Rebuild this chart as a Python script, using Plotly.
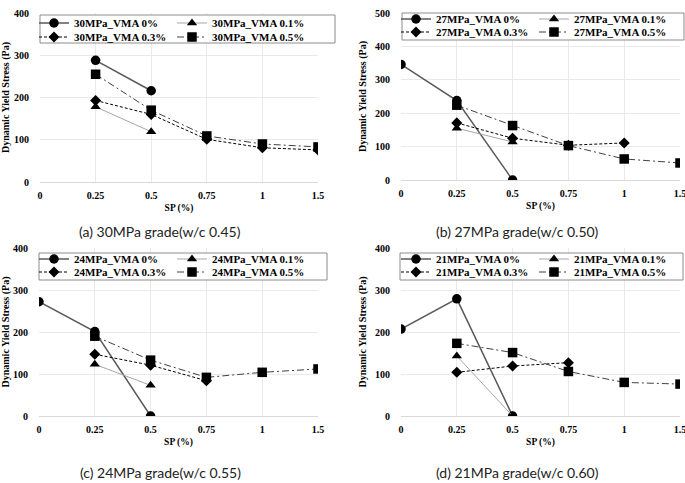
import plotly.graph_objects as go

# ---------------- data ----------------
categories = ["0", "0.25", "0.5", "0.75", "1", "1.5"]
vma_labels = ["0%", "0.1%", "0.3%", "0.5%"]

# (a) 30MPa grade
a_vma0 = [None, 288, 216, None, None, None]
a_vma01 = [None, 178, 119, None, None, None]
a_vma03 = [None, 193, 160, 101, 81, 76]
a_vma05 = [None, 255, 170, 109, 90, 83]

# (b) 27MPa grade
b_vma0 = [346, 238, 0, None, None, None]
b_vma01 = [None, 155, 114, None, None, None]
b_vma03 = [None, 171, 125, 104, 111, None]
b_vma05 = [None, 224, 163, 103, 63, 51]

# (c) 24MPa grade
c_vma0 = [272, 201, 0, None, None, None]
c_vma01 = [None, 123, 73, None, None, None]
c_vma03 = [None, 147, 121, 84, None, None]
c_vma05 = [None, 190, 133, 92, 104, 112]

# (d) 21MPa grade
d_vma0 = [207, 279, 0, None, None, None]
d_vma01 = [None, 143, 0, None, None, None]
d_vma03 = [None, 104, 119, 127, None, None]
d_vma05 = [None, 173, 151, 106, 80, 76]

grades = ["30MPa", "27MPa", "24MPa", "21MPa"]
captions = ["(a) 30MPa grade(w/c 0.45)", "(b) 27MPa grade(w/c 0.50)",
            "(c) 24MPa grade(w/c 0.55)", "(d) 21MPa grade(w/c 0.60)"]
y_max = [400, 500, 400, 400]
panel_series = [
    [a_vma0, a_vma01, a_vma03, a_vma05],
    [b_vma0, b_vma01, b_vma03, b_vma05],
    [c_vma0, c_vma01, c_vma03, c_vma05],
    [d_vma0, d_vma01, d_vma03, d_vma05],
]

# ---------------- layout geometry (pixels) ----------------
W, H = 685, 483
def px(x):
    return x / W
def py(y):
    return 1 - y / H

geom = [
    dict(x0=40, x1=318, y0=13, y1=182, box=(40, 335, 15, 43), rows=(24, 38), cols=(75, 213), cap=(160, 232)),
    dict(x0=401, x1=680, y0=13, y1=180, box=(402, 684, 13, 40), rows=(20, 33), cols=(437, 575), cap=(517, 232)),
    dict(x0=39, x1=318, y0=248, y1=416, box=(39, 327, 253, 280), rows=(260, 273), cols=(75, 213), cap=(160, 472)),
    dict(x0=401, x1=680, y0=248, y1=416, box=(400, 683, 253, 280), rows=(260, 273), cols=(437, 575), cap=(517, 472)),
]

styles = [
    dict(symbol="circle", size=9.5, color="#595959", width=1.5, dash="solid"),
    dict(symbol="triangle-up", size=9, color="#a6a6a6", width=1, dash="solid"),
    dict(symbol="diamond", size=8.5, color="#000000", width=1, dash="3px,2px"),
    dict(symbol="square", size=9.5, color="#404040", width=1, dash="7px,3px,2px,3px"),
]

serif = "Liberation Serif"
fig = go.Figure()
layout = dict(
    width=W, height=H, margin=dict(l=0, r=0, t=0, b=0, autoexpand=False),
    paper_bgcolor="white", plot_bgcolor="white", showlegend=True,
    shapes=[], annotations=[],
)

for i in range(4):
    g = geom[i]
    sfx = "" if i == 0 else str(i + 1)
    xa, ya = "x" + sfx, "y" + sfx
    for j, vals in enumerate(panel_series[i]):
        st = styles[j]
        lidx = i * 4 + j
        lname = "legend" if lidx == 0 else "legend%d" % (lidx + 1)
        fig.add_trace(go.Scatter(
            x=categories, y=vals, mode="lines+markers",
            name="%s_VMA %s" % (grades[i], vma_labels[j]),
            xaxis=xa, yaxis=ya, legend=lname, showlegend=True,
            line=dict(color=st["color"], width=st["width"], dash=st["dash"]),
            marker=dict(symbol=st["symbol"], size=st["size"], color="black"),
            connectgaps=False,
        ))
        row, col = j // 2, j % 2
        layout[lname] = dict(
            x=px(g["cols"][col] - 41), y=py(g["rows"][row] - 1),
            xanchor="left", yanchor="middle", orientation="h",
            bgcolor="rgba(0,0,0,0)", borderwidth=0, itemwidth=30,
            font=dict(family=serif, size=11, color="black", weight="bold"),
        )
    bx0, bx1, by0, by1 = g["box"]
    layout["shapes"].append(dict(
        type="rect", xref="paper", yref="paper",
        x0=px(bx0), x1=px(bx1), y0=py(by1), y1=py(by0),
        line=dict(color="#8c8c8c", width=1), fillcolor="white", layer="above",
    ))
    layout["xaxis" + sfx] = dict(
        domain=[px(g["x0"]), px(g["x1"])], anchor=ya,
        type="category", categoryorder="array", categoryarray=categories,
        range=[0, len(categories) - 1],
        showgrid=True, gridcolor="#e9e9e9", gridwidth=1,
        showline=True, linecolor="#d9d9d9", linewidth=1,
        ticks="outside", ticklen=4, tickcolor="rgba(0,0,0,0)",
        tickfont=dict(family=serif, size=10, color="black", weight="bold"),
        title=dict(text="SP (%)", standoff=4,
                   font=dict(family=serif, size=9.5, color="black", weight="bold")),
        zeroline=False, fixedrange=True, automargin=False,
    )
    layout["yaxis" + sfx] = dict(
        domain=[py(g["y1"]), py(g["y0"])], anchor=xa,
        range=[0, y_max[i]], dtick=100,
        showgrid=True, gridcolor="#e9e9e9", gridwidth=1,
        showline=False, zeroline=False,
        ticks="outside", ticklen=8, tickcolor="rgba(0,0,0,0)",
        tickfont=dict(family=serif, size=10, color="black", weight="bold"),
        title=dict(text="Dynamic Yield Stress (Pa)", standoff=6,
                   font=dict(family=serif, size=10, color="black", weight="bold")),
        fixedrange=True, automargin=False,
    )
    cx, cy = g["cap"]
    layout["annotations"].append(dict(
        text=captions[i], xref="paper", yref="paper", x=px(cx), y=py(cy),
        xanchor="center", yanchor="middle", showarrow=False,
        font=dict(family="Lato", size=14, color="#222222"),
    ))

fig.update_layout(**layout)
fig.write_html("out.html")
